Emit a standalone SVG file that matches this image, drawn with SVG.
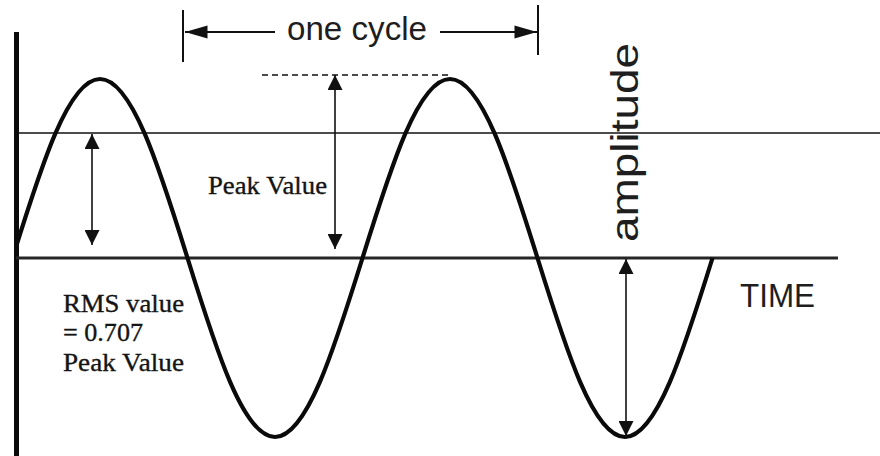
<svg xmlns="http://www.w3.org/2000/svg" width="880" height="456" viewBox="0 0 880 456">
  <style>
    .sans { font-family: "Liberation Sans", Arial, sans-serif; fill: #1e1e1e; }
    .serif { font-family: "Liberation Serif", "Times New Roman", serif; font-size: 26px; fill: #141414; stroke: #141414; stroke-width: 0.35; }
    .arrow { stroke: #111; stroke-width: 1.6; fill: none; }
    .thin { stroke: #111; stroke-width: 1.5; fill: none; }
    .wave { stroke: #0a0a0a; stroke-width: 4.2; fill: none; stroke-linejoin: round; }
  </style>
  <defs>
    <marker id="ah" viewBox="0 0 16 16" markerWidth="15" markerHeight="15" refX="16" refY="8" orient="auto-start-reverse" markerUnits="userSpaceOnUse">
      <path d="M0,0 L16,8 L0,16 Z" fill="#111"/>
    </marker>
    <marker id="ahc" viewBox="0 0 24 16" markerWidth="24" markerHeight="15" refX="24" refY="8" orient="auto-start-reverse" markerUnits="userSpaceOnUse">
      <path d="M0,1 L24,8 L0,15 Z" fill="#111"/>
    </marker>
    <clipPath id="clipWave">
      <rect x="18" y="0" width="862" height="456"/>
    </clipPath>
  </defs>
  <rect width="880" height="456" fill="#ffffff"/>

  <g id="axes">
    <line x1="16.5" y1="32" x2="16.5" y2="456" stroke="#0a0a0a" stroke-width="5"/>
    <line x1="16" y1="258" x2="838" y2="258" stroke="#262626" stroke-width="3"/>
    <line x1="18" y1="133" x2="880" y2="133" class="thin"/>
  </g>

  <g id="wave" clip-path="url(#clipWave)">
    <path class="wave" d="M12.5,258 C41.04,166.3 68.33,79 100,79 C131.67,79 158.96,166.3 187.5,258 C216.04,349.7 243.330,437 275,437 C306.67,437 333.96,349.7 362.5,258 C391.04,166.3 418.33,79 450,79 C481.67,79 508.96,166.3 537.5,258 C566.04,349.7 593.33,437 625,437 C656.67,437 683.96,349.7 712.5,258"/>
  </g>

  <g id="connectors">
    <line class="arrow" x1="92" y1="134" x2="92" y2="245" marker-start="url(#ah)" marker-end="url(#ah)"/>
    <line class="arrow" x1="335" y1="75" x2="335" y2="249" marker-start="url(#ah)" marker-end="url(#ah)"/>
    <line class="arrow" x1="626" y1="259" x2="626" y2="436" marker-start="url(#ah)" marker-end="url(#ah)"/>
    <line x1="262" y1="75" x2="448" y2="75" stroke="#111" stroke-width="1.5" stroke-dasharray="6 4"/>
    <line x1="183" y1="10" x2="183" y2="62" stroke="#111" stroke-width="2"/>
    <line x1="538" y1="5" x2="538" y2="55" stroke="#111" stroke-width="2"/>
    <line x1="275" y1="32" x2="185" y2="32" stroke="#111" stroke-width="2" marker-end="url(#ahc)"/>
    <line x1="440" y1="32" x2="537" y2="32" stroke="#111" stroke-width="2" marker-end="url(#ahc)"/>
  </g>

  <g id="label-one-cycle">
    <text class="sans" x="287" y="40" font-size="34" textLength="140" lengthAdjust="spacingAndGlyphs">one cycle</text>
  </g>
  <g id="label-amplitude">
    <text class="sans" transform="translate(638,242) rotate(-90)" x="0" y="0" font-size="39" textLength="199" lengthAdjust="spacingAndGlyphs">amplitude</text>
  </g>
  <g id="label-time">
    <text class="sans" x="740" y="307" font-size="34" textLength="75" lengthAdjust="spacingAndGlyphs">TIME</text>
  </g>
  <g id="label-peak">
    <text class="serif" x="208" y="194" textLength="119" lengthAdjust="spacingAndGlyphs">Peak Value</text>
  </g>
  <g id="label-rms">
    <text class="serif" x="63" y="312" textLength="121" lengthAdjust="spacingAndGlyphs">RMS value</text>
    <text class="serif" x="63" y="341" textLength="80" lengthAdjust="spacingAndGlyphs">= 0.707</text>
    <text class="serif" x="63" y="371" textLength="121" lengthAdjust="spacingAndGlyphs">Peak Value</text>
  </g>
</svg>
